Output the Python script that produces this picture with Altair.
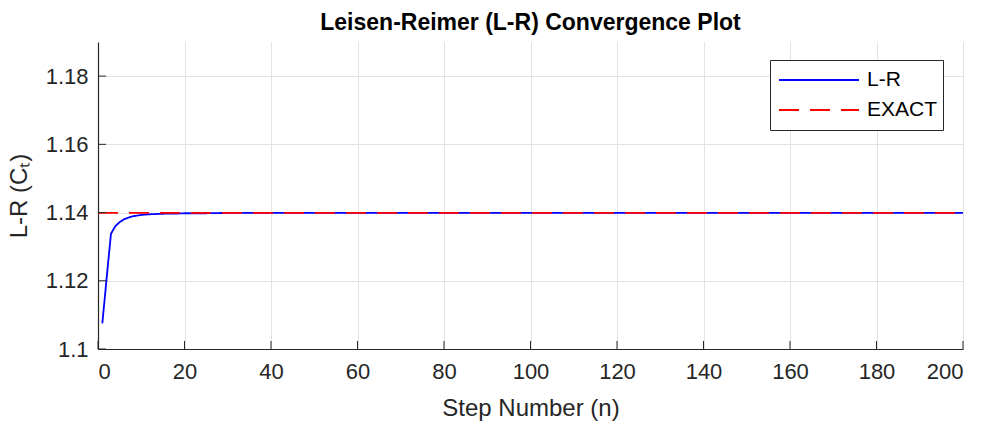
import altair as alt
import pandas as pd

# ---- data ----
lr_n = [1, 2, 3, 4, 5, 6, 7, 8, 9, 10, 12, 14, 16, 18, 20, 25, 30, 50, 100, 150, 200]
lr_val = [1.1075, 1.1208, 1.1338, 1.1360, 1.1372, 1.1380, 1.1385, 1.1389, 1.1391,
          1.1393, 1.1395, 1.1396, 1.1397, 1.1397, 1.1398, 1.1398, 1.1399, 1.1399,
          1.1399, 1.1399, 1.1399]
exact_n = [0, 200]
exact_val = [1.1399, 1.1399]
series_names = ["L-R", "EXACT"]
series_colors = ["#0000FF", "#FF0000"]
x_ticks = [0, 20, 40, 60, 80, 100, 120, 140, 160, 180, 200]
y_ticks = [1.10, 1.12, 1.14, 1.16, 1.18]

FONT = "Liberation Sans"
W, H = 865, 307

df = pd.DataFrame(
    {"n": lr_n + exact_n,
     "value": lr_val + exact_val,
     "series": ["L-R"] * len(lr_n) + ["EXACT"] * len(exact_n)}
)
xt = pd.DataFrame({"n": x_ticks})
yt = pd.DataFrame({"value": y_ticks})

xscale = alt.Scale(domain=[0, 200], nice=False, zero=False)
yscale = alt.Scale(domain=[1.1, 1.19], nice=False, zero=False)

color_enc = alt.Color(
    "series:N",
    scale=alt.Scale(domain=series_names, range=series_colors),
    title=None,
    legend=alt.Legend(
        orient="none", legendX=672, legendY=18,
        symbolType="stroke", symbolSize=6400, symbolStrokeWidth=1.8,
        clipHeight=30, rowPadding=0, padding=5,
        symbolOffset=3, labelOffset=7,
        labelFont=FONT, labelFontSize=21, labelColor="#000000",
        strokeColor="#262626", fillColor="white",
    ),
)
dash_enc = alt.StrokeDash(
    "series:N",
    scale=alt.Scale(domain=series_names, range=[[1, 0], [20, 11]]),
    title=None,
    legend=None,
)

x_enc = alt.X(
    "n:Q", scale=xscale,
    axis=alt.Axis(values=x_ticks, format="d", title="Step Number (n)",
                  grid=True, ticks=False, labelPadding=12, titlePadding=14),
)
y_enc = alt.Y(
    "value:Q", scale=yscale,
    axis=alt.Axis(values=y_ticks, format=".2~f", title="L-R (Cₜ)",
                  grid=True, ticks=False, labelPadding=10, titlePadding=14),
)

base = alt.Chart(df)
lr_line = base.transform_filter(alt.datum.series == "L-R").mark_line(
    strokeWidth=1.8
).encode(x=x_enc, y=y_enc, color=color_enc, strokeDash=dash_enc)
ex_line = base.transform_filter(alt.datum.series == "EXACT").mark_line(
    strokeWidth=1.8
).encode(x=alt.X("n:Q", scale=xscale), y=alt.Y("value:Q", scale=yscale),
         color=color_enc, strokeDash=dash_enc)

xticks = alt.Chart(xt).mark_rule(color="#262626", strokeWidth=1).encode(
    x=alt.X("n:Q", scale=xscale), y=alt.value(H), y2=alt.value(H - 8)
)
yticks = alt.Chart(yt).mark_rule(color="#262626", strokeWidth=1).encode(
    y=alt.Y("value:Q", scale=yscale), x=alt.value(0), x2=alt.value(8)
)

chart = alt.layer(lr_line, ex_line, xticks, yticks).properties(
    width=W, height=H,
    background="white",
    title=alt.TitleParams("Leisen-Reimer (L-R) Convergence Plot",
                          font=FONT, fontSize=23, fontWeight="bold",
                          color="#000000", anchor="middle", offset=7),
    autosize=alt.AutoSizeParams(type="none"),
    padding={"left": 98, "top": 42, "right": 25, "bottom": 86},
).configure_view(stroke=None).configure_axis(
    domainColor="#262626", domainWidth=1.2,
    gridColor="#e2e2e2", gridWidth=1,
    labelFont=FONT, labelFontSize=22, labelColor="#262626",
    titleFont=FONT, titleFontSize=24, titleFontWeight="normal", titleColor="#262626",
)

chart.save("out.html", embed_options={"renderer": "svg", "actions": False})
